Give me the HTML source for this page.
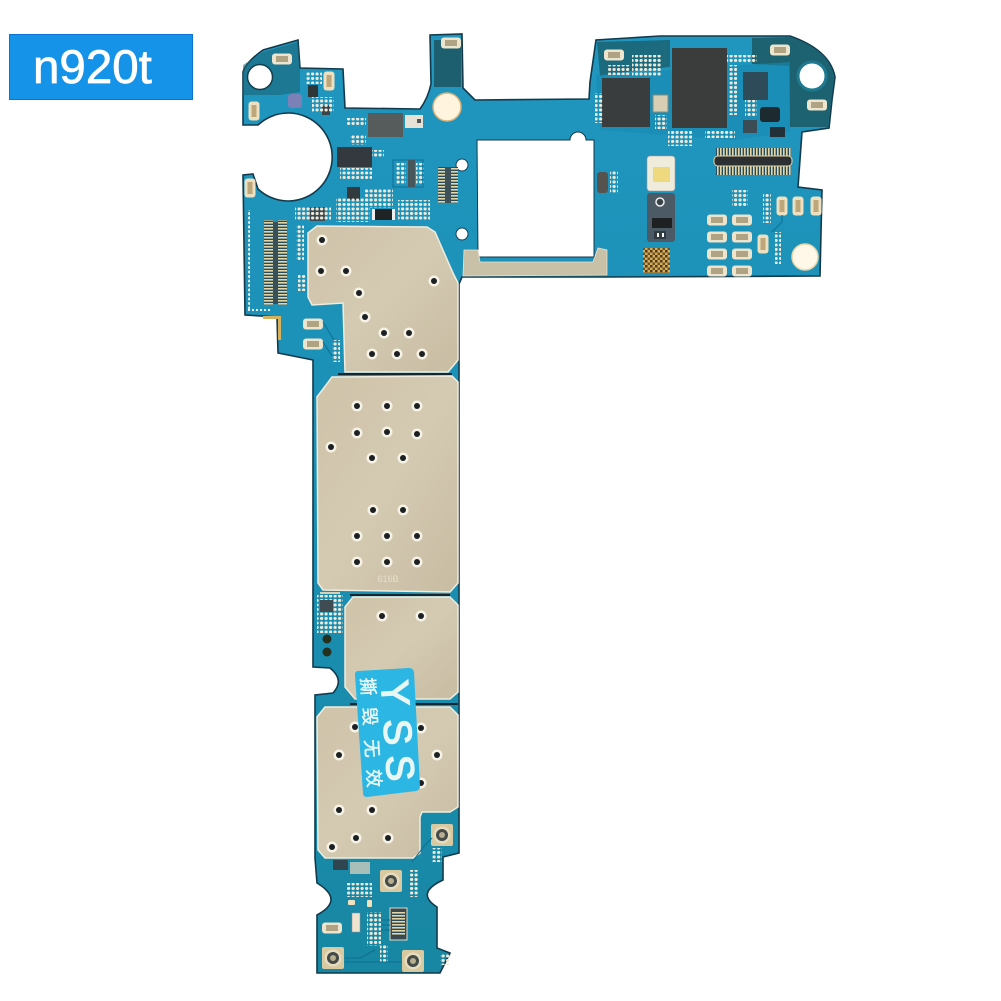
<!DOCTYPE html>
<html><head><meta charset="utf-8"><style>html,body{margin:0;padding:0;background:#fff}svg{display:block}</style></head>
<body>
<svg width="1001" height="1001" viewBox="0 0 1001 1001" xmlns="http://www.w3.org/2000/svg">
<defs>
<pattern id="d" width="4.5" height="4.5" patternUnits="userSpaceOnUse"><rect x=".5" y=".5" width="3.2" height="3" rx="1.2" fill="#eee8d8"/></pattern>
<pattern id="tv" width="3" height="3" patternUnits="userSpaceOnUse"><rect width="1.7" height="3" fill="#e2d6a8"/><rect x="1.7" width="1.3" height="3" fill="#2c4a55"/></pattern>
<pattern id="th" width="3" height="3" patternUnits="userSpaceOnUse"><rect width="3" height="1.7" fill="#e2d6a8"/><rect y="1.7" width="3" height="1.3" fill="#2c4a55"/></pattern>
<pattern id="q" width="5" height="5" patternUnits="userSpaceOnUse"><rect width="5" height="5" fill="#d9ad55"/><rect width="2.5" height="2.5" fill="#4a3a20"/><rect x="2.5" y="2.5" width="2.5" height="2.5" fill="#6a5228"/></pattern>
<linearGradient id="s1" x1="0" y1="0" x2="1" y2="1"><stop offset="0" stop-color="#cfc3a9"/><stop offset=".5" stop-color="#d4cab2"/><stop offset="1" stop-color="#c8bca2"/></linearGradient>
<linearGradient id="pcb" gradientUnits="userSpaceOnUse" x1="0" y1="40" x2="0" y2="973"><stop offset="0" stop-color="#2096bf"/><stop offset=".5" stop-color="#1b8fb4"/><stop offset="1" stop-color="#1787a3"/></linearGradient>
<g id="h"><circle r="5.5" fill="#f6f2e6"/><circle r="3" fill="#1c2022"/></g>
<g id="ph"><rect x="-10" y="-5.5" width="20" height="11" rx="3" fill="#ece4cc"/><rect x="-6" y="-3" width="12" height="6" fill="#b0a383"/></g>
<g id="pv"><rect x="-5.5" y="-9.5" width="11" height="19" rx="3" fill="#ece0c0"/><rect x="-2.5" y="-6" width="5" height="12" fill="#bda77a"/></g>
<g id="ant"><rect x="-11" y="-11" width="22" height="22" rx="2" fill="#d8c9a0"/><circle r="8.5" fill="#e6dcc0"/><circle r="6" fill="#444b48"/><circle r="3" fill="#b8ae90"/></g>
</defs>

<rect width="1001" height="1001" fill="#fff"/>

<!-- label -->
<rect x="9.5" y="34.5" width="183" height="65" fill="#1593e8" stroke="#0c74d2" stroke-width="1"/>
<text x="33" y="83" font-family="'Liberation Sans',sans-serif" font-size="47.5" fill="#fff" stroke="#fff" stroke-width=".7">n920t</text>

<!-- board -->
<path id="board" d="M243 72 Q246 62 263 50 L298 40 L300 68 L343 69 L345 108 L420 109 Q428 98 431 84 L430 35 L462 34 L463 88 L475 100 L589 99 L590 82 L596 40 L660 36 L790 36 Q830 50 835 77 L832 100 L829 128 L802 132 L798 187 L822 190 L820 276 L608 277 L462 277 L459 284 L459 853 L443 857 L443 880 Q415 893 437 907 L437 948 L450 953 L440 973 L317 973 L317 915 Q345 900 317 883 L315 858 L315 695 L333 693 Q345 680 330 668 L313 667 L313 360 L278 353 L277 317 L245 315 L243 175 L253 174 L258 189 A44 44 0 1 0 258 125 L243 125 Z" fill="url(#pcb)" stroke="#123a4c" stroke-width="1.6"/>

<!-- darker board regions -->
<path d="M243 65 L243 95 L280 95 L300 92 L300 66 L298 42 L263 52 Z" fill="#1c6270" opacity=".55"/>
<rect x="434" y="40" width="27" height="47" fill="#1d5f6e"/>
<path d="M597 42 L670 40 L670 67 L640 70 L600 76 Z" fill="#1c6a7e"/>
<path d="M752 38 L790 37 Q830 50 834 77 L828 127 L790 127 L789 66 L752 64 Z" fill="#1d6270"/>
<path d="M596 75 L790 62 L790 132 L735 140 L600 130 Z" fill="#178ab0" opacity=".6"/>

<!-- window -->
<path d="M477 140 L570 140 A8 8 0 0 1 586 140 L594 140 L594 257 L478 257 Z" fill="#fff" stroke="#123a4c" stroke-width="1"/>
<path d="M464 250 L478 250 L480 262 L593 262 L598 248 L607 250 L607 275 L463 276 Z" fill="#c9c0a8" stroke="#e8e2d0" stroke-width=".8"/>

<!-- holes in board -->
<circle cx="260" cy="77" r="12.5" fill="#fff" stroke="#12404c" stroke-width="1.5"/>
<circle cx="447" cy="107" r="14" fill="#fff4de" stroke="#d8b27a" stroke-width="1.5"/>
<circle cx="812" cy="76" r="14" fill="#fff" stroke="#1f7a8f" stroke-width="3"/>
<circle cx="805" cy="257" r="13" fill="#fff8e8" stroke="#e6d3a8" stroke-width="1.5"/>
<circle cx="462" cy="165" r="6" fill="#fff" stroke="#16405a"/>
<circle cx="462" cy="234" r="6" fill="#fff" stroke="#16405a"/>
<circle cx="327" cy="639" r="4.5" fill="#26301f"/>
<circle cx="327" cy="652" r="4.5" fill="#26301f"/>

<!-- left cluster chips -->
<rect x="368" y="113" width="35" height="24" fill="#565b5c"/>
<rect x="337" y="147" width="35" height="20" fill="#33393e"/>
<rect x="347" y="187" width="13" height="13" fill="#333a3e"/>
<rect x="372" y="209" width="23" height="11" fill="#1f2324"/><rect x="372" y="209" width="3" height="11" fill="#eee"/><rect x="392" y="209" width="3" height="11" fill="#eee"/>
<rect x="405" y="115" width="18" height="13" fill="#e8e2d6"/><rect x="417" y="119" width="4" height="4" fill="#555"/>
<rect x="288" y="94" width="14" height="14" rx="3" fill="#7b80b6"/>
<rect x="308" y="85" width="10" height="12" fill="#2e3638"/>
<rect x="322" y="105" width="8" height="10" fill="#3a4448"/>
<rect x="310" y="207" width="15" height="14" fill="#3a4a50"/>
<use href="#ph" x="282" y="59"/>
<use href="#ph" x="451" y="43"/>
<use href="#pv" x="329" y="81"/>
<use href="#pv" x="254" y="111"/>
<use href="#pv" x="250" y="188"/>
<rect x="393" y="160" width="30" height="27" fill="none" stroke="#0f6e93"/>
<rect x="408" y="160" width="7" height="27" fill="#48575c"/>
<rect x="396" y="163" width="10" height="21" fill="url(#d)"/>
<rect x="416" y="163" width="8" height="21" fill="url(#d)"/>
<rect x="438" y="167" width="7" height="36" fill="url(#th)"/>
<rect x="445" y="167" width="6" height="36" fill="#3e5058"/>
<rect x="451" y="167" width="7" height="36" fill="url(#th)"/>
<rect x="306" y="72" width="16" height="12" fill="url(#d)"/>
<rect x="312" y="97" width="22" height="16" fill="url(#d)"/>
<rect x="346" y="118" width="20" height="8" fill="url(#d)"/>
<rect x="350" y="135" width="16" height="10" fill="url(#d)"/>
<rect x="372" y="150" width="12" height="8" fill="url(#d)"/>
<rect x="340" y="168" width="32" height="12" fill="url(#d)"/>
<rect x="336" y="198" width="34" height="24" fill="url(#d)"/>
<rect x="365" y="188" width="28" height="20" fill="url(#d)"/>
<rect x="398" y="200" width="32" height="20" fill="url(#d)"/>
<rect x="295" y="206" width="36" height="14" fill="url(#d)"/>

<!-- left connector -->
<rect x="264" y="220" width="9" height="85" fill="url(#th)"/>
<rect x="273" y="222" width="5" height="82" fill="#3a5058"/>
<rect x="278" y="220" width="9" height="85" fill="url(#th)"/>
<rect x="296" y="225" width="8" height="36" fill="url(#d)"/>
<rect x="298" y="275" width="8" height="16" fill="url(#d)"/>
<rect x="247" y="210" width="3" height="100" fill="url(#d)"/>
<path d="M263 316 H281 V340 H278 V319 H263 Z" fill="#d6b25e"/>
<path d="M248 310 H272" stroke="#eee" stroke-width="2" stroke-dasharray="2 2"/>

<!-- right cluster chips -->
<rect x="602" y="78" width="48" height="49" fill="#3a3d3e"/>
<rect x="672" y="48" width="55" height="80" fill="#3b3c3c"/>
<rect x="743" y="72" width="25" height="28" fill="#2d4b58"/>
<rect x="760" y="107" width="20" height="15" rx="3" fill="#1d2a30"/>
<rect x="770" y="127" width="15" height="10" fill="#243038"/>
<rect x="743" y="120" width="14" height="13" fill="#3c4c55"/>
<rect x="653" y="95" width="15" height="17" fill="#d8ceb4" stroke="#8a8a7a"/>
<rect x="597" y="172" width="11" height="21" rx="3" fill="#56534f"/>
<use href="#ph" x="614" y="55"/>
<use href="#ph" x="780" y="50"/>
<use href="#ph" x="817" y="105"/>
<rect x="608" y="65" width="22" height="10" fill="url(#d)"/>
<rect x="632" y="55" width="30" height="22" fill="url(#d)"/>
<rect x="595" y="93" width="8" height="30" fill="url(#d)"/>
<rect x="727" y="55" width="30" height="8" fill="url(#d)"/>
<rect x="729" y="65" width="8" height="50" fill="url(#d)"/>
<rect x="745" y="100" width="12" height="16" fill="url(#d)"/>
<rect x="655" y="115" width="12" height="14" fill="url(#d)"/>
<rect x="668" y="130" width="24" height="16" fill="url(#d)"/>
<rect x="705" y="130" width="30" height="8" fill="url(#d)"/>
<rect x="610" y="170" width="8" height="24" fill="url(#d)"/>
<rect x="732" y="190" width="16" height="16" fill="url(#d)"/>
<rect x="763" y="193" width="8" height="30" fill="url(#d)"/>
<rect x="775" y="232" width="6" height="32" fill="url(#d)"/>

<!-- right connector -->
<rect x="716" y="148" width="75" height="10" fill="url(#tv)"/>
<rect x="716" y="165" width="75" height="10" fill="url(#tv)"/>
<rect x="714" y="156" width="78" height="10" rx="4" fill="#2d3032" stroke="#e2d6a8" stroke-width="1"/>

<!-- LED + camera -->
<rect x="647" y="156" width="28" height="35" rx="3" fill="#f0ecdc" stroke="#99a" stroke-width=".6"/>
<rect x="653" y="167" width="17" height="15" fill="#eed97e"/>
<rect x="647" y="193" width="28" height="49" rx="3" fill="#4b5a65"/>
<circle cx="660" cy="202" r="4" fill="#39434a" stroke="#eee" stroke-width="1.5"/>
<rect x="652" y="218" width="20" height="10" fill="#1e2022"/>
<rect x="654" y="231" width="12" height="8" fill="#2e3a42"/><rect x="657" y="233" width="2" height="4" fill="#fff"/><rect x="662" y="233" width="2" height="4" fill="#fff"/>
<rect x="643" y="248" width="27" height="25" fill="url(#q)"/>

<!-- pads right -->
<use href="#ph" x="717" y="220"/><use href="#ph" x="742" y="220"/>
<use href="#ph" x="717" y="237"/><use href="#ph" x="742" y="237"/>
<use href="#ph" x="717" y="254"/><use href="#ph" x="742" y="254"/>
<use href="#ph" x="717" y="271"/><use href="#ph" x="742" y="271"/>
<use href="#pv" x="782" y="206"/><use href="#pv" x="798" y="206"/><use href="#pv" x="816" y="206"/>
<use href="#pv" x="763" y="244"/>
<path d="M782 215 V222 L772 232" stroke="#0f6e93" fill="none"/>

<!-- shields -->
<path d="M308 233 L317 226 L427 227 L435 232 L453 273 L458 283 L458 360 L448 372 L345 372 L343 303 L312 305 L308 297 Z" fill="url(#s1)" stroke="#f1ecdd" stroke-width="1.5"/>
<path d="M317 397 L332 377 L452 376 L458 382 L458 583 L450 592 L323 590 L318 583 Z" fill="url(#s1)" stroke="#f1ecdd" stroke-width="1.5"/>
<path d="M345 607 L353 597 L450 597 L458 605 L458 692 L450 699 L355 699 L345 687 Z" fill="url(#s1)" stroke="#f1ecdd" stroke-width="1.5"/>
<path d="M317 717 L325 707 L450 707 L458 715 L458 807 L450 812 L422 812 L420 817 L420 853 L413 858 L325 858 L318 850 Z" fill="url(#s1)" stroke="#f1ecdd" stroke-width="1.5"/>
<path d="M338 374 H452 M350 595 H450 M350 704 H458" stroke="#15262e" stroke-width="2"/>

<!-- shield holes -->
<use href="#h" x="322" y="240"/><use href="#h" x="321" y="271"/><use href="#h" x="346" y="271"/><use href="#h" x="434" y="281"/><use href="#h" x="359" y="293"/><use href="#h" x="365" y="317"/><use href="#h" x="384" y="333"/><use href="#h" x="409" y="333"/><use href="#h" x="372" y="354"/><use href="#h" x="397" y="354"/><use href="#h" x="422" y="354"/>
<use href="#h" x="357" y="406"/><use href="#h" x="387" y="406"/><use href="#h" x="417" y="406"/><use href="#h" x="357" y="433"/><use href="#h" x="387" y="432"/><use href="#h" x="417" y="434"/><use href="#h" x="331" y="447"/><use href="#h" x="372" y="458"/><use href="#h" x="403" y="458"/><use href="#h" x="373" y="510"/><use href="#h" x="403" y="510"/><use href="#h" x="357" y="536"/><use href="#h" x="387" y="536"/><use href="#h" x="417" y="536"/><use href="#h" x="357" y="562"/><use href="#h" x="387" y="562"/><use href="#h" x="417" y="562"/>
<use href="#h" x="382" y="616"/><use href="#h" x="421" y="616"/>
<use href="#h" x="355" y="727"/><use href="#h" x="421" y="728"/><use href="#h" x="339" y="755"/><use href="#h" x="437" y="755"/><use href="#h" x="421" y="783"/><use href="#h" x="339" y="810"/><use href="#h" x="372" y="810"/><use href="#h" x="356" y="838"/><use href="#h" x="388" y="838"/><use href="#h" x="332" y="847"/>
<text x="388" y="582" text-anchor="middle" font-family="'Liberation Sans',sans-serif" font-size="9" fill="#e6dfca">616B</text>

<!-- sticker -->
<path d="M358 671 L409 668 Q413 668 414 672 L420 786 Q420 790 416 791 L367 797 Q363 797 363 793 L355 675 Q355 671 358 671 Z" fill="#2bb6e4"/>
<g transform="translate(381 681) rotate(86.3)" font-family="'Liberation Sans',sans-serif" font-size="39" fill="#e8f6f4" stroke="#e8f6f4" stroke-width="1.4">
<text x="0" y="0">Y</text><text x="39" y="0">S</text><text x="75" y="0">S</text>
</g>
<g transform="translate(361 678) rotate(86.3)" font-family="'Liberation Sans','Noto Sans CJK SC',sans-serif" font-size="18" fill="#e8f6f4" stroke="#e8f6f4" stroke-width=".5">
<text x="0" y="0">撕</text><text x="30" y="0">毁</text><text x="62" y="0">无</text><text x="92" y="0">效</text>
</g>

<!-- mid-left pads -->
<use href="#ph" x="313" y="324"/><use href="#ph" x="313" y="344"/>
<rect x="332" y="340" width="8" height="22" fill="url(#d)"/>
<path d="M323 322 L334 340 M323 342 L332 356" stroke="#0f6e93" fill="none"/>
<rect x="317" y="595" width="26" height="38" fill="url(#d)"/>
<rect x="320" y="600" width="13" height="12" fill="#3f4c52"/>
<rect x="320" y="592" width="20" height="2" fill="#d8d0b8"/>

<!-- lower section -->
<use href="#ant" x="391" y="881"/>
<use href="#ant" x="333" y="958"/>
<use href="#ant" x="413" y="961"/>
<use href="#ant" x="442" y="835"/>
<use href="#ph" x="332" y="928"/>
<rect x="352" y="913" width="8" height="19" fill="#ece4cc" stroke="#a89" stroke-width=".5"/>
<rect x="348" y="900" width="7" height="5" rx="1" fill="#eee2bf"/>
<rect x="367" y="900" width="5" height="7" rx="1" fill="#eee2bf"/>
<rect x="410" y="870" width="8" height="27" fill="url(#d)"/>
<rect x="432" y="848" width="10" height="14" fill="url(#d)"/>
<rect x="347" y="883" width="25" height="14" fill="url(#d)"/>
<rect x="333" y="860" width="15" height="10" fill="#2f4650"/>
<rect x="350" y="862" width="20" height="12" fill="#d7d1bd" opacity=".75"/>
<rect x="390" y="908" width="17" height="32" fill="#3a4a50" stroke="#e0dcc6"/>
<rect x="392" y="912" width="13" height="24" fill="url(#th)"/>
<rect x="367" y="912" width="14" height="34" fill="url(#d)"/>
<rect x="380" y="945" width="8" height="18" fill="url(#d)"/>
<rect x="440" y="953" width="9" height="12" fill="url(#d)"/>
<path d="M381 920 H390 M381 925 H390 M381 930 H390 M345 962 H402 M345 958 H360 L375 950 M412 862 L425 845 L432 838" stroke="#0e6d92" fill="none"/>
</svg>
</body></html>
